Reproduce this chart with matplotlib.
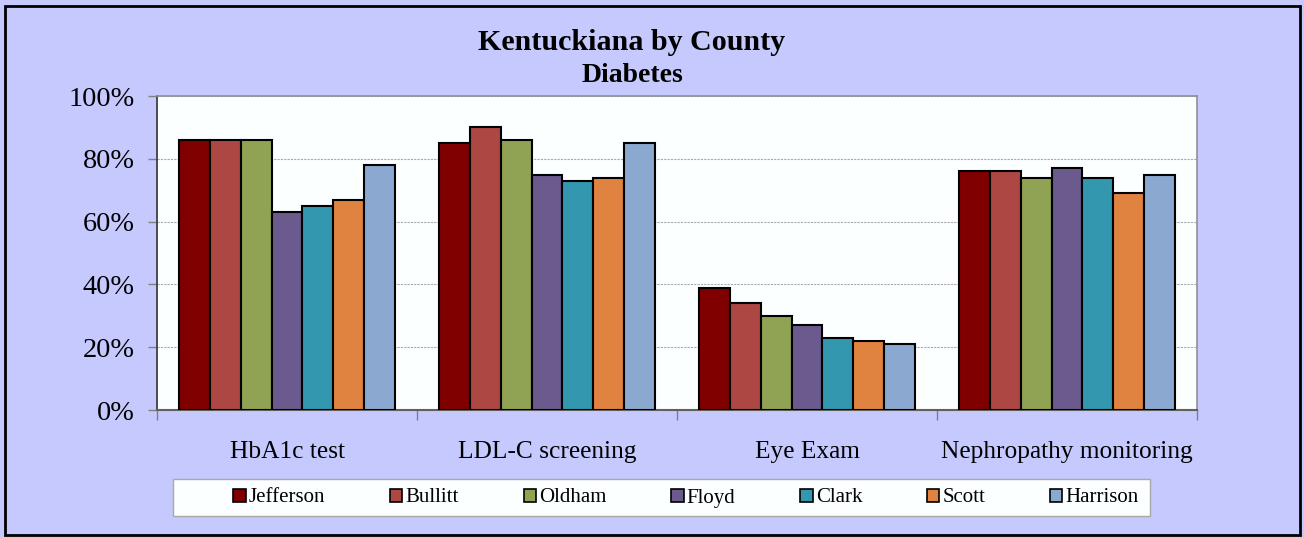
import matplotlib
matplotlib.use("Agg")
import matplotlib.pyplot as plt
from matplotlib.patches import Rectangle, Patch
from matplotlib.ticker import FuncFormatter
import numpy as np

categories = ["HbA1c test", "LDL-C screening", "Eye Exam", "Nephropathy monitoring"]
counties = ["Jefferson", "Bullitt", "Oldham", "Floyd", "Clark", "Scott", "Harrison"]
values = {
    "Jefferson": [86, 85, 39, 76],
    "Bullitt":   [86, 90, 34, 76],
    "Oldham":    [86, 86, 30, 74],
    "Floyd":     [63, 75, 27, 77],
    "Clark":     [65, 73, 23, 74],
    "Scott":     [67, 74, 22, 69],
    "Harrison":  [78, 85, 21, 75],
}
colors = ["#800000", "#AD4744", "#90A354", "#6B5A8E", "#3397B0", "#E08340", "#8BA9D0"]
yticks = [0, 20, 40, 60, 80, 100]

plt.rcParams['font.family'] = ['Liberation Serif', 'DejaVu Serif']

W, H = 1304, 538
fig = plt.figure(figsize=(W/100, H/100), dpi=100)
fig.patch.set_facecolor("#C5C9FD")

ax = fig.add_axes([157/W, 1-410/H, 1040/W, 314/H])
ax.set_facecolor("#FCFFFF")

n = len(counties)
bw = 0.827 / n
x = np.arange(len(categories))
for i, (c, col) in enumerate(zip(counties, colors)):
    ax.bar(x + (i - (n-1)/2) * bw, values[c], width=bw, color=col,
           edgecolor="black", linewidth=1.5, zorder=3)

ax.set_xlim(-0.5, len(categories) - 0.5)
ax.set_ylim(0, 100)
ax.set_yticks(yticks)
ax.yaxis.set_major_formatter(FuncFormatter(lambda v, p: f"{int(v)}%"))
ax.yaxis.grid(True, color="#AAAAAA", linestyle=(0, (2, 1)), linewidth=0.8, zorder=0)
ax.tick_params(axis="y", labelsize=20.3, length=6.5, width=1, color="#808080", pad=9.5)

ax.set_xticks(np.arange(-0.5, len(categories)), minor=False)
ax.set_xticklabels([])
ax.tick_params(axis="x", length=7, width=1, color="#808080", direction="out")
for xi, cat in zip(x, categories):
    ax.text(xi, -13.3, cat, ha="center", va="center", fontsize=18.3,
            transform=ax.transData)

for side in ["top", "right"]:
    ax.spines[side].set_color("#909090")
    ax.spines[side].set_linewidth(1.2)
ax.spines["left"].set_color("#404040")
ax.spines["bottom"].set_color("#606060")
ax.spines["left"].set_linewidth(1.3)
ax.spines["bottom"].set_linewidth(1.5)

fig.text(632/W, 1-42/H, "Kentuckiana by County", ha="center", va="center",
         fontsize=21.6, fontweight="bold")
fig.text(632/W, 1-75/H, "Diabetes", ha="center", va="center",
         fontsize=20, fontweight="bold")

# legend frame
fig.patches.append(Rectangle((173/W, 1-516/H), (1150-173)/W, 37/H,
                             transform=fig.transFigure, facecolor="#FCFFFF",
                             edgecolor="#A8A8A8", linewidth=1, zorder=1))
handles = [Patch(facecolor=col, edgecolor="black", linewidth=1.2) for col in colors]
leg = fig.legend(handles, counties, loc="center", bbox_to_anchor=(686/W, 1-498/H),
                 ncol=n, frameon=False, fontsize=15, handlelength=0.6,
                 handleheight=0.6, handletextpad=0.15, columnspacing=3.1,
                 borderpad=0, borderaxespad=0)

# figure border
fig.patches.append(Rectangle((5/W, 3/H), (W-9)/W, (H-9)/H, transform=fig.transFigure,
                             facecolor="none", edgecolor="black", linewidth=2, zorder=10))

fig.savefig("out.png", dpi=100, facecolor=fig.get_facecolor())
